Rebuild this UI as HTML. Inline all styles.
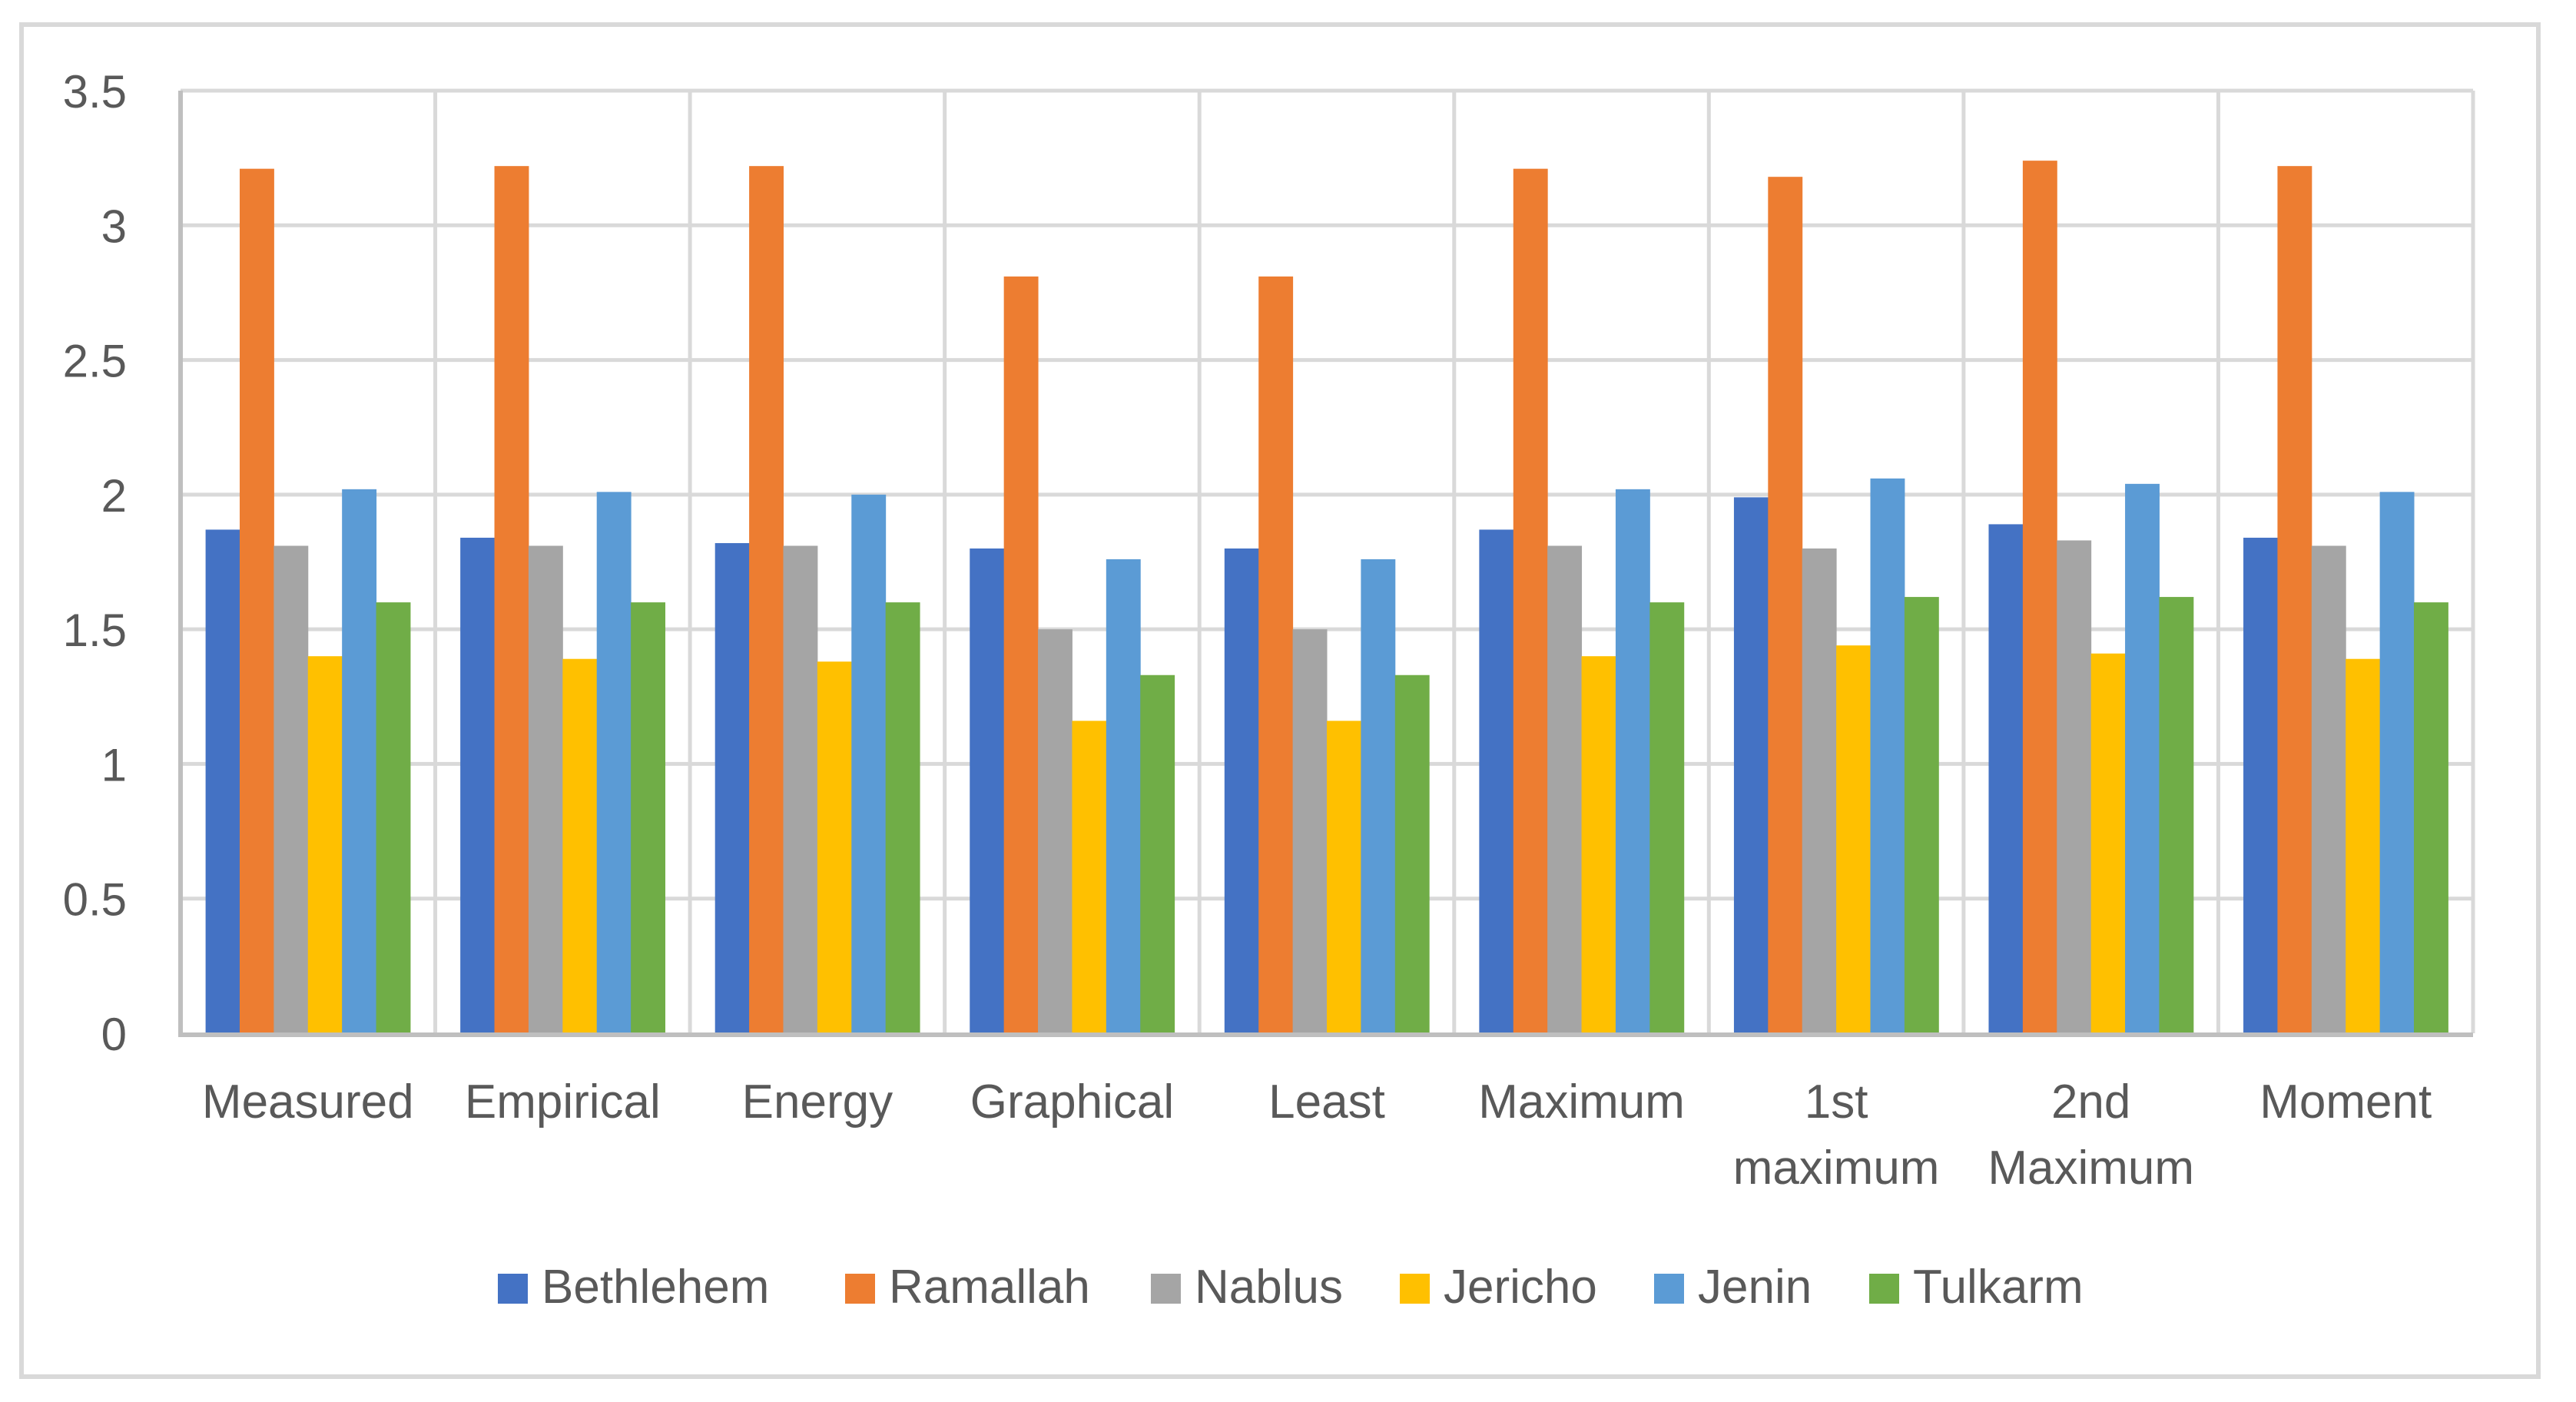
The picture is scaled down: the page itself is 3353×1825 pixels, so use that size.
<!DOCTYPE html>
<html><head><meta charset="utf-8"><style>
html,body{margin:0;padding:0;background:#fff;}
svg{display:block;font-family:"Liberation Sans",sans-serif;}
</style></head><body>
<svg id="chart" width="3353" height="1825" viewBox="0 0 3353 1825" xmlns="http://www.w3.org/2000/svg">
<rect x="28" y="32" width="3276" height="1760" fill="#fff" stroke="#d9d9d9" stroke-width="6"/>
<g id="grid"></g><g id="bars"></g><g id="axes"></g><g id="labels"></g><g id="legend"></g>
</svg>
<script>
const categories = [["Measured"],["Empirical"],["Energy"],["Graphical"],["Least"],["Maximum"],["1st","maximum"],["2nd","Maximum"],["Moment"]];
const seriesNames = ["Bethlehem","Ramallah","Nablus","Jericho","Jenin","Tulkarm"];
const bethlehem = [1.87,1.84,1.82,1.80,1.80,1.87,1.99,1.89,1.84];
const ramallah  = [3.21,3.22,3.22,2.81,2.81,3.21,3.18,3.24,3.22];
const nablus    = [1.81,1.81,1.81,1.50,1.50,1.81,1.80,1.83,1.81];
const jericho   = [1.40,1.39,1.38,1.16,1.16,1.40,1.44,1.41,1.39];
const jenin     = [2.02,2.01,2.00,1.76,1.76,2.02,2.06,2.04,2.01];
const tulkarm   = [1.60,1.60,1.60,1.33,1.33,1.60,1.62,1.62,1.60];
const yTicks = [0,0.5,1,1.5,2,2.5,3,3.5];
const yTickLabels = ["0","0.5","1","1.5","2","2.5","3","3.5"];
const series = [bethlehem,ramallah,nablus,jericho,jenin,tulkarm];
const colors = ["#4472c4","#ed7d31","#a5a5a5","#ffc000","#5b9bd5","#70ad47"];

const NS="http://www.w3.org/2000/svg";
const L=235,R=3219,T=118,B=1345,yMax=3.5;
const y=v=>B-(v/yMax)*(B-T);
const cw=(R-L)/categories.length;
const x=i=>L+i*cw;
const gap=32.6, bw=(cw-2*gap)/series.length;
function mk(tag,attrs,parent){const e=document.createElementNS(NS,tag);for(const k in attrs)e.setAttribute(k,attrs[k]);document.getElementById(parent).appendChild(e);return e;}

yTicks.forEach((t,i)=>{
  if(t>0){const g=mk('line',{x1:L,x2:R,y1:y(t),y2:y(t),stroke:'#d9d9d9','stroke-width':5},'grid');
  
  }
  const lb=mk('text',{x:165,y:y(t)+22,'text-anchor':'end','font-size':60,fill:'#595959'},'labels');
  lb.textContent=yTickLabels[i];
  
  
});
for(let i=1;i<=categories.length;i++){
  const g=mk('line',{x1:x(i),x2:x(i),y1:T,y2:B,stroke:'#d9d9d9','stroke-width':5},'grid');
  
  
}
categories.forEach((c,ci)=>{
  series.forEach((s,si)=>{
    const r=mk('rect',{x:x(ci)+gap+si*bw,y:y(s[ci]),width:bw+0.5,height:B-y(s[ci]),fill:colors[si]},'bars');
    
    
  });
  c.forEach((line,li)=>{
    const t=mk('text',{x:x(ci)+cw/2,y:1455+li*86,'text-anchor':'middle','font-size':62,fill:'#595959'},'labels');
    t.textContent=line;
    
    
  });
});
const ax=mk('line',{x1:L,x2:L,y1:T,y2:B,stroke:'#bfbfbf','stroke-width':6},'axes');


const bx=mk('line',{x1:L-3,x2:R,y1:B+2,y2:B+2,stroke:'#bfbfbf','stroke-width':6},'axes');



const legX=[648,1100,1498,1822,2153,2433];
seriesNames.forEach((n,i)=>{
  const sq=mk('rect',{x:legX[i],y:1658,width:39,height:39,fill:colors[i]},'legend');
  
  
  const t=mk('text',{x:legX[i]+57,y:1696,'font-size':62,fill:'#595959'},'legend');
  t.textContent=n;
  
  
});
</script>
</body></html>
